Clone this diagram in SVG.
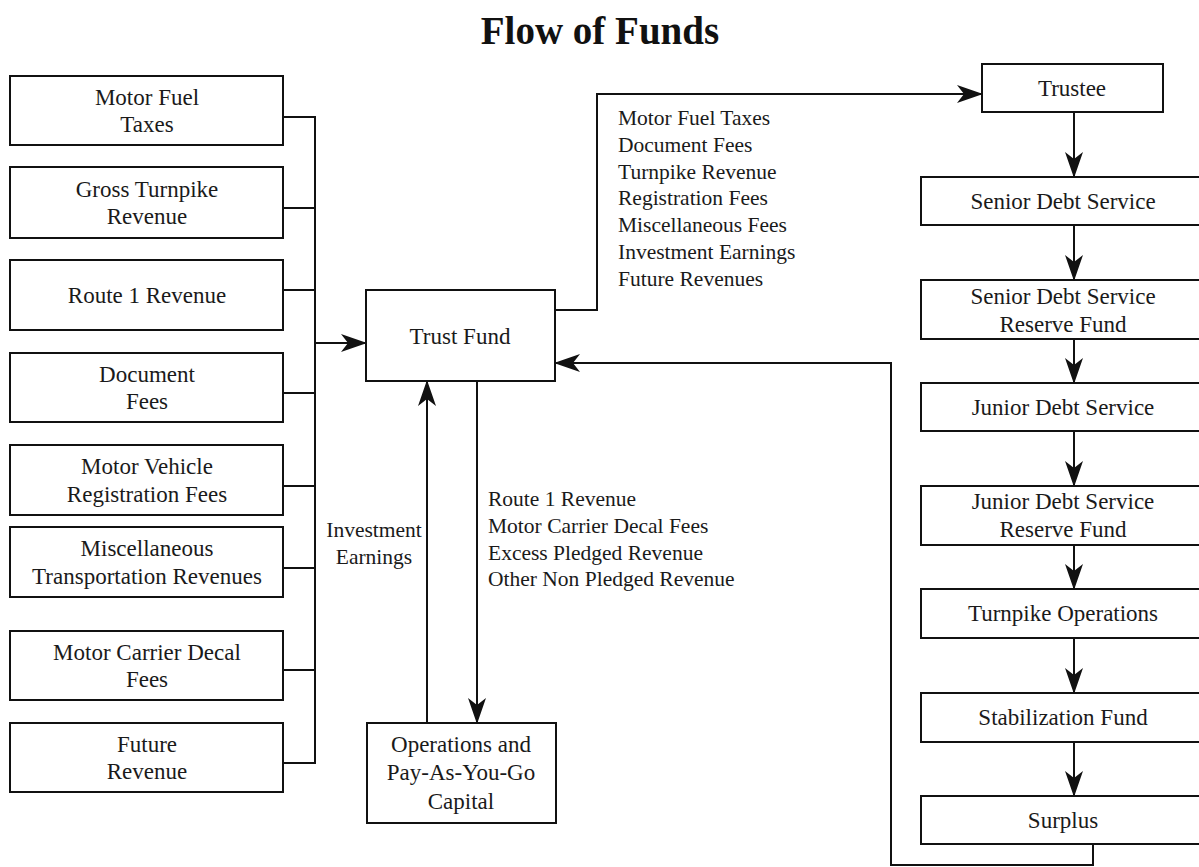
<svg xmlns="http://www.w3.org/2000/svg" width="1199" height="867" viewBox="0 0 1199 867">
<defs>
<marker id="ah" markerUnits="userSpaceOnUse" markerWidth="26" markerHeight="18" viewBox="0 0 26 18" refX="25" refY="9" orient="auto">
<path d="M0,0 L26,9 L0,18 L7,9 Z" fill="#111"/>
</marker>
<style>
.box{fill:none;stroke:#111;stroke-width:2}
.t{font-family:"Liberation Serif","Times New Roman",serif;font-size:23px;fill:#1a1a1a;text-anchor:middle}
.l{font-family:"Liberation Serif","Times New Roman",serif;font-size:21.5px;fill:#1a1a1a}
.c{fill:none;stroke:#111;stroke-width:2}
.a{fill:none;stroke:#111;stroke-width:2;marker-end:url(#ah)}
.title{font-family:"Liberation Serif","Times New Roman",serif;font-size:39px;font-weight:bold;fill:#111;text-anchor:middle}
</style>
</defs>
<rect width="1199" height="867" fill="#fff"/>
<text class="title" x="600" y="44">Flow of Funds</text>

<g id="motor-fuel-taxes"><rect class="box" x="10" y="76" width="273" height="69"/><text class="t" x="147" y="105">Motor Fuel</text><text class="t" x="147" y="132">Taxes</text></g>
<g id="gross-turnpike-revenue"><rect class="box" x="10" y="167" width="273" height="71"/><text class="t" x="147" y="197">Gross Turnpike</text><text class="t" x="147" y="224">Revenue</text></g>
<g id="route-1-revenue"><rect class="box" x="10" y="260" width="273" height="70"/><text class="t" x="147" y="303">Route 1 Revenue</text></g>
<g id="document-fees"><rect class="box" x="10" y="353" width="273" height="69"/><text class="t" x="147" y="382">Document</text><text class="t" x="147" y="409">Fees</text></g>
<g id="motor-vehicle-registration-fees"><rect class="box" x="10" y="445" width="273" height="70"/><text class="t" x="147" y="474">Motor Vehicle</text><text class="t" x="147" y="502">Registration Fees</text></g>
<g id="misc-transportation-revenues"><rect class="box" x="10" y="527" width="273" height="70"/><text class="t" x="147" y="556">Miscellaneous</text><text class="t" x="147" y="584">Transportation Revenues</text></g>
<g id="motor-carrier-decal-fees"><rect class="box" x="10" y="631" width="273" height="69"/><text class="t" x="147" y="660">Motor Carrier Decal</text><text class="t" x="147" y="687">Fees</text></g>
<g id="future-revenue"><rect class="box" x="10" y="723" width="273" height="69"/><text class="t" x="147" y="752">Future</text><text class="t" x="147" y="779">Revenue</text></g>

<g id="trust-fund"><rect class="box" x="366" y="290" width="189" height="91"/><text class="t" x="460" y="344">Trust Fund</text></g>
<g id="operations"><rect class="box" x="367" y="723" width="189" height="100"/><text class="t" x="461" y="752">Operations and</text><text class="t" x="461" y="780">Pay-As-You-Go</text><text class="t" x="461" y="809">Capital</text></g>

<g id="trustee"><rect class="box" x="982" y="64" width="181" height="48"/><text class="t" x="1072" y="96">Trustee</text></g>
<g id="senior-debt-service"><rect class="box" x="921" y="177" width="284" height="48"/><text class="t" x="1063" y="209">Senior Debt Service</text></g>
<g id="senior-debt-service-reserve"><rect class="box" x="921" y="280" width="284" height="59"/><text class="t" x="1063" y="304">Senior Debt Service</text><text class="t" x="1063" y="332">Reserve Fund</text></g>
<g id="junior-debt-service"><rect class="box" x="921" y="383" width="284" height="48"/><text class="t" x="1063" y="415">Junior Debt Service</text></g>
<g id="junior-debt-service-reserve"><rect class="box" x="921" y="486" width="284" height="59"/><text class="t" x="1063" y="509">Junior Debt Service</text><text class="t" x="1063" y="537">Reserve Fund</text></g>
<g id="turnpike-operations"><rect class="box" x="921" y="589" width="284" height="49"/><text class="t" x="1063" y="621">Turnpike Operations</text></g>
<g id="stabilization-fund"><rect class="box" x="921" y="693" width="284" height="49"/><text class="t" x="1063" y="725">Stabilization Fund</text></g>
<g id="surplus"><rect class="box" x="921" y="796" width="284" height="48"/><text class="t" x="1063" y="828">Surplus</text></g>

<g id="connectors">
<path class="c" d="M283,117 H315 M283,208 H315 M283,290 H315 M283,393 H315 M283,486 H315 M283,568 H315 M283,670 H315 M283,763 H315 M315,116 V764"/>
<path class="a" d="M315,343 H366"/>
<path class="a" d="M555,310 H597 V94 H982"/>
<path class="a" d="M1093,844 V865 H891 V363 H555"/>
<path class="a" d="M427,723 V381"/>
<path class="a" d="M477,381 V723"/>
<path class="a" d="M1074,112 V177"/>
<path class="a" d="M1074,225 V280"/>
<path class="a" d="M1074,339 V383"/>
<path class="a" d="M1074,431 V486"/>
<path class="a" d="M1074,545 V589"/>
<path class="a" d="M1074,638 V693"/>
<path class="a" d="M1074,742 V796"/>
</g>

<g id="labels">
<text class="l" x="618" y="125">Motor Fuel Taxes</text>
<text class="l" x="618" y="152">Document Fees</text>
<text class="l" x="618" y="179">Turnpike Revenue</text>
<text class="l" x="618" y="205">Registration Fees</text>
<text class="l" x="618" y="232">Miscellaneous Fees</text>
<text class="l" x="618" y="259">Investment Earnings</text>
<text class="l" x="618" y="286">Future Revenues</text>
<text class="l" x="374" y="537" text-anchor="middle">Investment</text>
<text class="l" x="374" y="564" text-anchor="middle">Earnings</text>
<text class="l" x="488" y="506">Route 1 Revenue</text>
<text class="l" x="488" y="533">Motor Carrier Decal Fees</text>
<text class="l" x="488" y="560">Excess Pledged Revenue</text>
<text class="l" x="488" y="586">Other Non Pledged Revenue</text>
</g>
</svg>
